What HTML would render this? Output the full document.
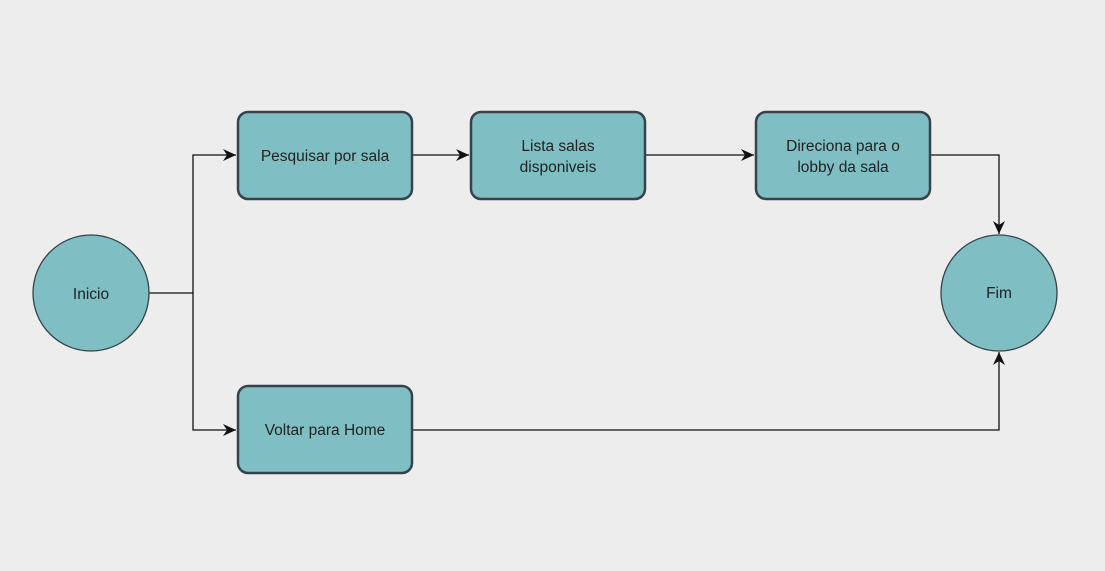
<!DOCTYPE html>
<html><head><style>
body{margin:0;background:#ededed;}
svg{display:block;font-family:"Liberation Sans",Arial,sans-serif;}
</style></head><body>
<svg width="1105" height="571" viewBox="0 0 1105 571">
<defs><marker id="a" markerWidth="14" markerHeight="12" refX="13" refY="6" orient="auto" markerUnits="userSpaceOnUse"><path d="M0,0 L13,6 L0,12 L4,6 Z" fill="#111"/></marker></defs>
<rect width="1105" height="571" fill="#ededed"/>
<g fill="none" stroke="#111" stroke-width="1.3">
<path d="M149,293 H193 V155 H236" marker-end="url(#a)"/>
<path d="M193,293 V430 H236" marker-end="url(#a)"/>
<path d="M412,155 H469" marker-end="url(#a)"/>
<path d="M645,155 H754" marker-end="url(#a)"/>
<path d="M930,155 H999 V234" marker-end="url(#a)"/>
<path d="M412,430 H999 V352" marker-end="url(#a)"/>
</g>
<g fill="#7fbfc3" stroke="#36434d" stroke-width="2.5">
<rect x="238" y="112" width="174" height="87" rx="10"/>
<rect x="471" y="112" width="174" height="87" rx="10"/>
<rect x="756" y="112" width="174" height="87" rx="10"/>
<rect x="238" y="386" width="174" height="87" rx="10"/>
</g>
<g fill="#7fbfc3" stroke="#36434d" stroke-width="1.3">
<circle cx="91" cy="293" r="58"/>
<circle cx="999" cy="293" r="58"/>
</g>
<g fill="#222" font-size="15.5" text-anchor="middle">
<text x="325" y="161">Pesquisar por sala</text>
<text x="558" y="151">Lista salas</text>
<text x="558" y="172">disponiveis</text>
<text x="843" y="151">Direciona para o</text>
<text x="843" y="172">lobby da sala</text>
<text x="325" y="435">Voltar para Home</text>
<text x="91" y="299">Inicio</text>
<text x="999" y="298">Fim</text>
</g>
</svg>
</body></html>
